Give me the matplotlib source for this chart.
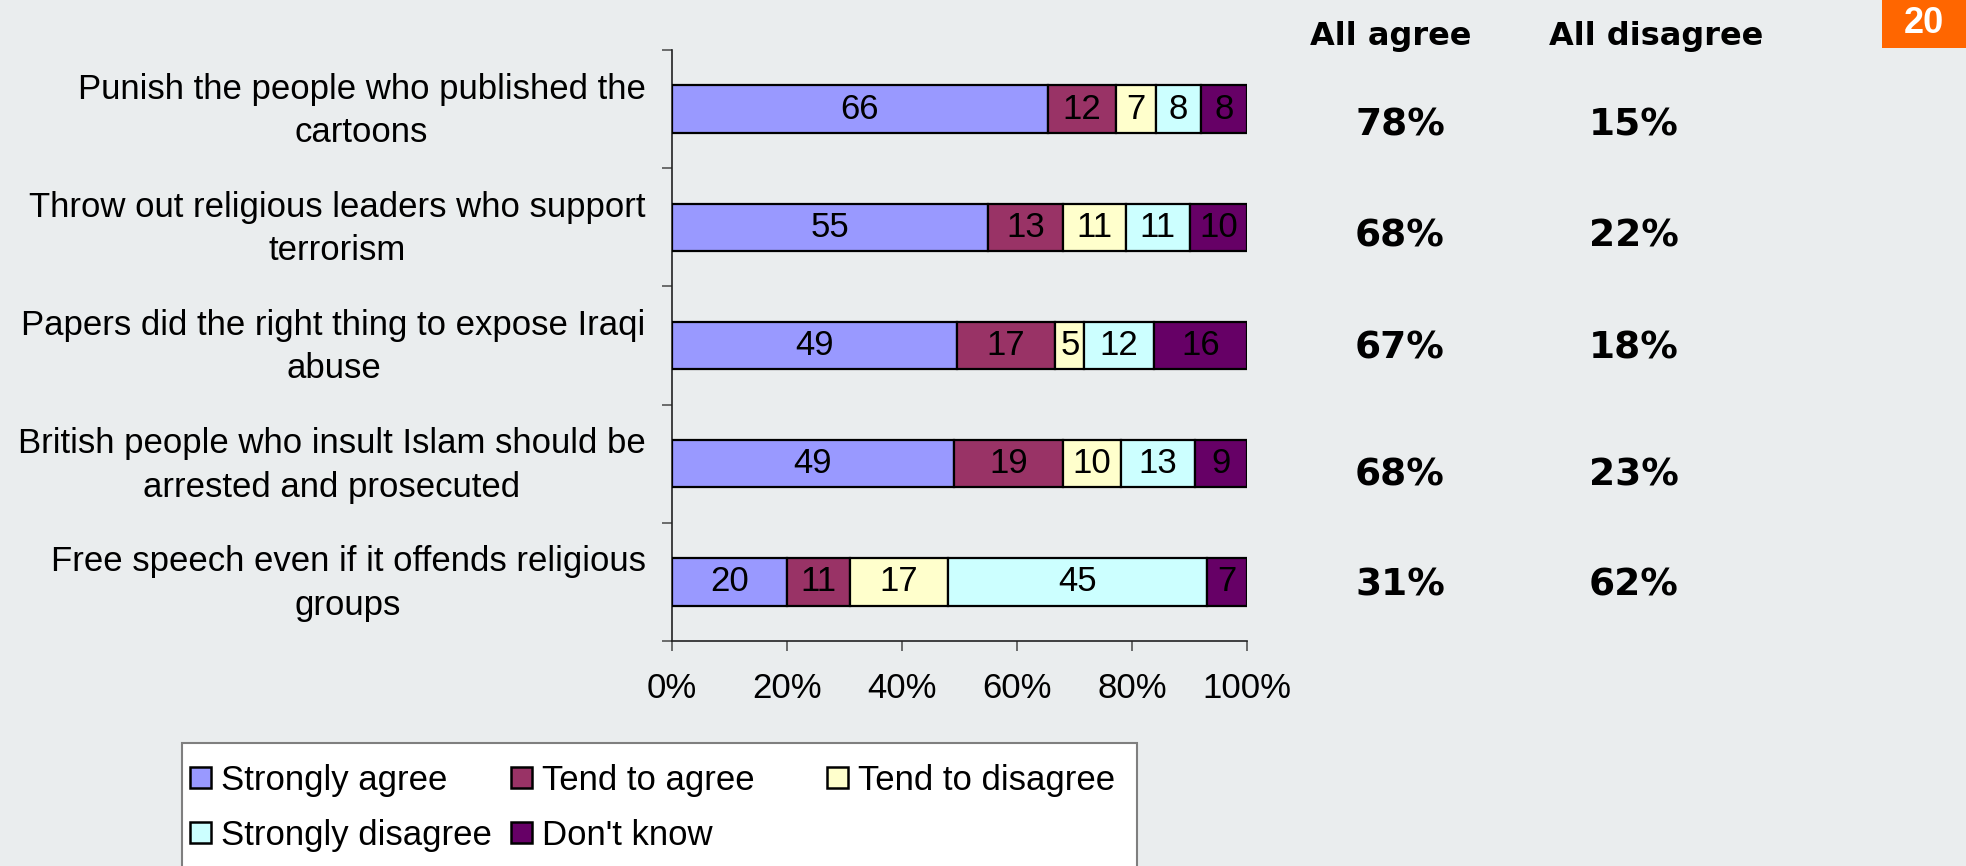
import matplotlib
matplotlib.use("Agg")
import matplotlib.pyplot as plt
from matplotlib.patches import Rectangle
from matplotlib.transforms import blended_transform_factory, offset_copy, Affine2D
import numpy as np

# ---------------- data ----------------
categories = [
    "Punish the people who published the\ncartoons",
    "Throw out religious leaders who support\nterrorism",
    "Papers did the right thing to expose Iraqi\nabuse",
    "British people who insult Islam should be\narrested and prosecuted",
    "Free speech even if it offends religious\ngroups",
]
series_names = ["Strongly agree", "Tend to agree", "Tend to disagree",
                "Strongly disagree", "Don't know"]
strongly_agree = [66, 55, 49, 49, 20]
tend_to_agree = [12, 13, 17, 19, 11]
tend_to_disagree = [7, 11, 5, 10, 17]
strongly_disagree = [8, 11, 12, 13, 45]
dont_know = [8, 10, 16, 9, 7]
all_agree = ["78%", "68%", "67%", "68%", "31%"]
all_disagree = ["15%", "22%", "18%", "23%", "62%"]
x_ticks = [0, 20, 40, 60, 80, 100]
x_tick_labels = ["0%", "20%", "40%", "60%", "80%", "100%"]
page_number = "20"

series_values = [strongly_agree, tend_to_agree, tend_to_disagree,
                 strongly_disagree, dont_know]
colors = ["#9999FF", "#993366", "#FFFFCC", "#CCFFFF", "#660066"]

# ---------------- layout ----------------
W, H = 1966, 866
BG = "#EAEDEE"
plt.rcParams["font.family"] = ["Liberation Sans", "DejaVu Sans"]

fig = plt.figure(figsize=(W / 100, H / 100), dpi=100, facecolor=BG)

def fx(x):
    return x / W

def fy(y):
    return 1 - y / H

ax_left, ax_right, ax_top, ax_bottom = 672, 1247, 50, 641
ax = fig.add_axes([fx(ax_left), fy(ax_bottom), fx(ax_right - ax_left),
                   (ax_bottom - ax_top) / H])
ax.set_facecolor(BG)

# 100% stacked: each row is scaled to its own total
raw = np.array(series_values, dtype=float)
totals = raw.sum(axis=0)
shares = raw / totals * 100

y = np.arange(len(categories))
left = np.zeros(len(categories))
for name, vals, share, col in zip(series_names, series_values, shares, colors):
    bars = ax.barh(y, share, left=left, height=0.4, color=col,
                   edgecolor="black", linewidth=1.6, label=name, zorder=3)
    ax.bar_label(bars, labels=[str(v) for v in vals], label_type="center",
                 fontsize=25, color="black")
    left += share

ax.set_xlim(0, 100)
ax.set_ylim(len(categories) - 0.5, -0.5)

ax.set_xticks(x_ticks)
ax.set_xticklabels(x_tick_labels, fontsize=25)
ax.tick_params(axis="x", direction="out", length=7.5, width=1.2,
               color="#555555", pad=14.5)

ax.set_yticks(y)
ax.set_yticklabels(categories, fontsize=25, multialignment="center",
                   linespacing=1.4)
ax.tick_params(axis="y", which="major", length=0, pad=19)
ax.set_yticks(np.arange(len(categories) + 1) - 0.5, minor=True)
ax.tick_params(axis="y", which="minor", direction="out", length=7.5,
               width=1.2, color="#555555")
for lab in ax.get_yticklabels():
    lab.set_transform(lab.get_transform() + Affine2D().translate(0, 7))

for s in ["top", "right"]:
    ax.spines[s].set_visible(False)
for s in ["left", "bottom"]:
    ax.spines[s].set_color("#222222")
    ax.spines[s].set_linewidth(1.2)

# ---------------- summary columns ----------------
bold = ["DejaVu Sans"]
fig.text(fx(1391), fy(45), "All agree", fontsize=23, fontweight="bold",
         family=bold, ha="center", va="baseline")
fig.text(fx(1656), fy(45), "All disagree", fontsize=23, fontweight="bold",
         family=bold, ha="center", va="baseline")

row_baseline_offsets = [26, 19, 13, 22, 14]  # px below bar centre
for xpix, col_vals in [(1400, all_agree), (1634, all_disagree)]:
    base = blended_transform_factory(fig.transFigure, ax.transData)
    for yi, txt, off in zip(y, col_vals, row_baseline_offsets):
        tr = offset_copy(base, fig=fig, x=0, y=-off, units="dots")
        fig.text(fx(xpix), yi, txt, transform=tr, fontsize=27,
                 fontweight="bold", family=bold, ha="center", va="baseline")

# ---------------- page badge ----------------
fig.add_artist(Rectangle((fx(1882), fy(48)), fx(W - 1882), 48 / H,
                         transform=fig.transFigure, facecolor="#FF6600",
                         edgecolor="none"))
fig.text(fx(1924), fy(33), page_number, fontsize=26, fontweight="bold",
         family=["Liberation Sans"], color="white", ha="center",
         va="baseline")

# ---------------- legend (Excel-style grid) ----------------
fig.add_artist(Rectangle((fx(182), fy(H + 5)), fx(1137 - 182), (H + 5 - 743) / H,
                         transform=fig.transFigure, facecolor="white",
                         edgecolor="#7F7F7F", linewidth=1.5))
leg_cols = [190, 511, 827]
leg_rows = [777, 832]
psz = 21
for i, (name, col) in enumerate(zip(series_names, colors)):
    r, c = divmod(i, 3)
    px, py = leg_cols[c], leg_rows[r]
    fig.add_artist(Rectangle((fx(px), fy(py + psz / 2)), psz / W, psz / H,
                             transform=fig.transFigure, facecolor=col,
                             edgecolor="black", linewidth=1.8))
    fig.text(fx(px + 31), fy(py), name, fontsize=25, ha="left",
             va="center_baseline")

fig.savefig("out.png", dpi=100, facecolor=BG)
